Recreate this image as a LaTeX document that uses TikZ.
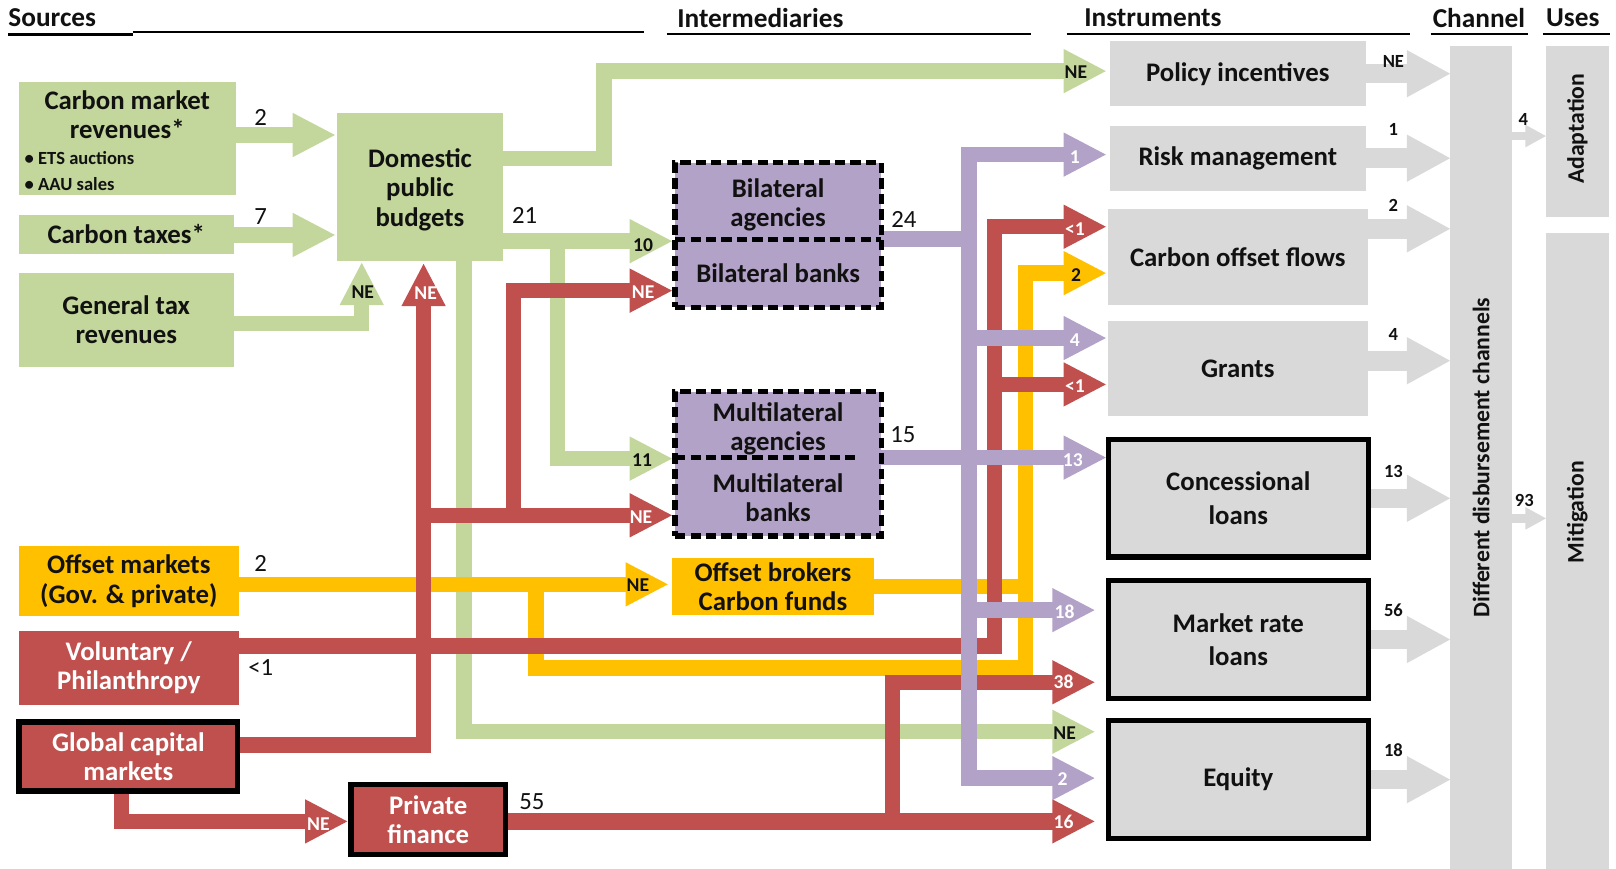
\documentclass[tikz,border=0pt]{standalone}
\usepackage{fontspec}
\setmainfont{Carlito}
\usetikzlibrary{calc}
\definecolor{cgreen}{HTML}{C3D69B}
\definecolor{cred}{HTML}{C0504D}
\definecolor{cpurple}{HTML}{B3A2C7}
\definecolor{cyellow}{HTML}{FFC000}
\definecolor{cgray}{HTML}{D9D9D9}
\definecolor{ctext}{HTML}{111111}
\pgfdeclarelayer{bg}
\pgfsetlayers{bg,main}
\newcommand\tipR[2]{\fill[#1] (#2) -- ++(-41,21.5) -- ++(0,-43) -- cycle;}
\newcommand\tipU[2]{\fill[#1] (#2) -- ++(-21.5,41) -- ++(43,0) -- cycle;}
\newcommand\tipG[2]{\fill[#1] (#2) -- ++(-42,23) -- ++(0,-46) -- cycle;}
\newcommand\tipS[2]{\fill[#1] (#2) -- ++(-20,11) -- ++(0,-22) -- cycle;}
\tikzset{
  box/.style={inner sep=0pt, outer sep=0pt, align=center, font=\fontsize{26}{28.5}\selectfont\bfseries, text=ctext},
  thickbox/.style={box, draw=black, line width=5pt, font=\fontsize{26}{32.5}\selectfont\bfseries},
  dashbox/.style={box, draw=black, line width=5pt, dash pattern=on 10pt off 5pt, fill=cpurple},
  hdr/.style={anchor=west, inner sep=0pt, font=\fontsize{26.5}{28}\selectfont\bfseries, text=ctext},
  num/.style={inner sep=0pt, font=\fontsize{24}{24}\selectfont, text=ctext},
  lbk/.style={inner sep=0pt, font=\fontsize{19}{19}\selectfont\bfseries, text=ctext},
  lwh/.style={lbk, text=white},
  gnum/.style={inner sep=0pt, font=\fontsize{18}{18}\selectfont\bfseries, text=ctext},
  rot/.style={box, rotate=90, font=\fontsize{23}{23}\selectfont\bfseries},
  band/.style={line width=15pt, line cap=butt, line join=miter, shorten >=40pt},
  gflow/.style={band, draw=cgreen},
  yflow/.style={band, draw=cyellow},
  rflow/.style={band, draw=cred},
  pflow/.style={band, draw=cpurple},
  grflow/.style={line width=19pt, line cap=butt, draw=cgray, shorten >=41pt},
  smflow/.style={line width=8pt, line cap=butt, draw=cgray, shorten >=19pt},
}
\begin{document}
\begin{tikzpicture}[x=1pt,y=-1pt]
\useasboundingbox (0,0) rectangle (1568,843);

% ---------- headers
\node[hdr] (hS) at (8,17) {Sources};
\node[hdr] (hI) at (657,17) {Intermediaries};
\node[hdr] (hN) at (1052,17) {Instruments};
\node[hdr] (hC) at (1390,17) {Channel};
\node[hdr] (hU) at (1500,17) {Uses};
\draw[line width=2pt] (8,33.5) -- (129,33.5) (129,31.5) -- (625,31.5);
\draw[line width=2pt] (647,33) -- (1000,33);
\draw[line width=2pt] (1035,33) -- (1368,33);
\draw[line width=2pt] (1388,33) -- (1483,33);
\draw[line width=2pt] (1497,33) -- (1562,33);

% ---------- sources
\node[box, fill=cgreen, minimum width=211pt, minimum height=109pt] (cmr) at (123.5,134.5) {};
\node[box] (cmrT) at (123.5,111) {Carbon market\\revenues*};
\node[box, anchor=west, align=left, font=\fontsize{18}{25}\selectfont\bfseries] (cmrB) at (24,166) {• ETS auctions\\• AAU sales};
\node[box, fill=cgreen, minimum width=209pt, minimum height=37pt] (ct) at (122.5,227.5) {Carbon taxes*};
\node[box, fill=cgreen, minimum width=209pt, minimum height=91pt] (gtr) at (122.5,310.5) {General tax\\revenues};
\node[box, fill=cyellow, minimum width=214pt, minimum height=68pt] (om) at (125,564) {Offset markets\\(Gov. \& private)};
\node[box, fill=cred, text=white, minimum width=214pt, minimum height=72pt] (vp) at (125,648) {Voluntary /\\Philanthropy};
\node[thickbox, fill=cred, text=white, font=\fontsize{26}{28}\selectfont\bfseries, minimum width=212pt, minimum height=67pt] (gcm) at (124.5,734) {Global capital\\markets};
\node[thickbox, fill=cred, text=white, font=\fontsize{26}{28}\selectfont\bfseries, minimum width=150pt, minimum height=68pt] (pf) at (415.5,795.5) {Private\\finance};
\node[box, fill=cgreen, minimum width=161pt, minimum height=143pt] (dpb) at (407.5,181.5) {};
\node[box] (dpbT) at (407.5,184) {Domestic\\public\\budgets};

% ---------- intermediaries
\node[dashbox, minimum width=200pt, minimum height=140pt] (bil) at (755,228) {};
\draw[black, line width=5pt, dash pattern=on 10pt off 5pt] (bil.west |- 0,232) -- (bil.east |- 0,232);
\node[box] (bilA) at (755,199) {Bilateral\\agencies};
\node[box] (bilB) at (755,265) {Bilateral banks};
\node[dashbox, minimum width=200pt, minimum height=140pt] (mul) at (755,450) {};
\draw[black, line width=5pt, dash pattern=on 10pt off 5pt] (mul.west |- 0,444) -- (830,444);
\node[box] (mulA) at (755,416) {Multilateral\\agencies};
\node[box] (mulB) at (755,483) {Multilateral\\banks};
\node[box, fill=cyellow, minimum width=196pt, minimum height=56pt] (ob) at (750,569) {Offset brokers\\Carbon funds};

% ---------- instruments
\node[box, fill=cgray, minimum width=248pt, minimum height=63pt] (pi) at (1201,71.5) {Policy incentives};
\node[box, fill=cgray, minimum width=248pt, minimum height=63pt] (rm) at (1201,153.5) {Risk management};
\node[box, fill=cgray, minimum width=252pt, minimum height=93pt] (cof) at (1201,249.5) {Carbon offset flows};
\node[box, fill=cgray, minimum width=252pt, minimum height=93pt] (gr) at (1201,357.5) {Grants};
\node[thickbox, fill=cgray, minimum width=252pt, minimum height=114pt] (cl) at (1201.5,483.5) {Concessional\\loans};
\node[thickbox, fill=cgray, minimum width=252pt, minimum height=114pt] (mrl) at (1201.5,620.5) {Market rate\\loans};
\node[thickbox, fill=cgray, minimum width=252pt, minimum height=114pt] (eq) at (1201.5,756.5) {Equity};

% ---------- channel and uses
\node[box, fill=cgray, minimum width=60pt, minimum height=798pt] (ch) at (1437,444) {};
\node[rot] (chT) at (1437,444) {Different disbursement channels};
\node[box, fill=cgray, minimum width=61pt, minimum height=166pt] (ad) at (1530.5,128) {};
\node[rot] (adT) at (1530.5,125) {Adaptation};
\node[box, fill=cgray, minimum width=61pt, minimum height=617pt] (mi) at (1530.5,534.5) {};
\node[rot] (miT) at (1530.5,497) {Mitigation};

% ---------- coordinates
\coordinate (tG1) at (325,131);
\coordinate (tG2) at (325,228);
\coordinate (jG3) at (351,314);
\coordinate (tG3) at (351,255);
\coordinate (jG4) at (586,154);
\coordinate (tG4) at (1073,69);
\coordinate (tG5) at (652,234);
\coordinate (jG6) at (541,234);
\coordinate (tG6) at (652,445);
\coordinate (jG7) at (450,710);
\coordinate (tG7) at (1062,710);
\coordinate (tY1) at (648,567);
\coordinate (jY2) at (520,567);
\coordinate (kY2) at (995,648);
\coordinate (tY2) at (1073,265);
\coordinate (jR1) at (411,723);
\coordinate (tR1) at (411,256);
\coordinate (jR2) at (411,500);
\coordinate (tR2) at (652,500);
\coordinate (jR3) at (498,500);
\coordinate (tR3) at (652,282);
\coordinate (jR4) at (965,627);
\coordinate (tR4) at (1073,220);
\coordinate (jR5) at (965,373);
\coordinate (tR5) at (1073,373);
\coordinate (tR6) at (1062,797);
\coordinate (jR7) at (866,797);
\coordinate (tR7) at (1062,662);
\coordinate (jR8) at (118,797);
\coordinate (tR8) at (337,797);
\coordinate (jP) at (940,232);
\coordinate (tP1) at (1073,150);
\coordinate (tP2) at (1073,328);
\coordinate (tP3) at (1073,444);
\coordinate (tP4) at (1062,592);
\coordinate (tP5) at (1062,755);
\coordinate (gt3) at (1407,222);
\coordinate (gt4) at (1407,350);

% ---------- flows (under the boxes)
\begin{pgfonlayer}{bg}
% green
\draw[gflow] (cmr.east |- tG1) -- (tG1); \tipR{cgreen}{tG1}
\draw[gflow] (ct.east |- tG2) -- (tG2); \tipR{cgreen}{tG2}
\draw[gflow] (gtr.east |- jG3) -- (jG3) -- (tG3); \tipU{cgreen}{tG3}
\draw[gflow] (dpb.east |- jG4) -- (jG4) -- (jG4 |- tG4) -- (tG4); \tipR{cgreen}{tG4}
\draw[gflow] (dpb.east |- tG5) -- (tG5); \tipR{cgreen}{tG5}
\draw[gflow] (jG6) -- (jG6 |- tG6) -- (tG6); \tipR{cgreen}{tG6}
\draw[gflow] (dpb.south -| jG7) -- (jG7) -- (tG7); \tipR{cgreen}{tG7}
% yellow
\draw[yflow] (om.east |- tY1) -- (tY1); \tipR{cyellow}{tY1}
\draw[yflow] (jY2) -- (jY2 |- kY2) -- (kY2) -- (kY2 |- tY2) -- (tY2); \tipR{cyellow}{tY2}
\draw[yflow, shorten >=0pt] (ob.east) -- ($(ob.east -| kY2)+(7,0)$);
% red
\draw[rflow] (gcm.east |- jR1) -- (jR1) -- (tR1); \tipU{cred}{tR1}
\draw[rflow] (jR2) -- (tR2); \tipR{cred}{tR2}
\draw[rflow] (jR3) -- (jR3 |- tR3) -- (tR3); \tipR{cred}{tR3}
\draw[rflow] (vp.east |- jR4) -- (jR4) -- (jR4 |- tR4) -- (tR4); \tipR{cred}{tR4}
\draw[rflow] (jR5) -- (tR5); \tipR{cred}{tR5}
\draw[rflow, line width=16pt] (pf.east |- tR6) -- (tR6); \tipR{cred}{tR6}
\draw[rflow] (jR7) -- (jR7 |- tR7) -- (tR7); \tipR{cred}{tR7}
\draw[rflow] (gcm.south -| jR8) -- (jR8) -- (tR8); \tipR{cred}{tR8}
% purple
\draw[pflow] (jP |- tP5) -- (jP |- tP1) -- (tP1); \tipR{cpurple}{tP1}
\draw[pflow] (bil.east |- jP) -- (jP) -- (jP |- tP5) -- (tP5); \tipR{cpurple}{tP5}
\draw[pflow] (jP |- tP2) -- (tP2); \tipR{cpurple}{tP2}
\draw[pflow] (mul.east |- tP3) -- (tP3); \tipR{cpurple}{tP3}
\draw[pflow] (jP |- tP4) -- (tP4); \tipR{cpurple}{tP4}
% gray
\draw[grflow] (pi.east) -- (pi.east -| ch.west); \tipG{cgray}{pi.east -| ch.west}
\draw[grflow] (rm.east) -- (rm.east -| ch.west); \tipG{cgray}{rm.east -| ch.west}
\draw[grflow] (cof.east |- gt3) -- (gt3); \tipG{cgray}{gt3}
\draw[grflow] (gr.east |- gt4) -- (gt4); \tipG{cgray}{gt4}
\draw[grflow] (cl.east) -- (cl.east -| ch.west); \tipG{cgray}{cl.east -| ch.west}
\draw[grflow] (mrl.east) -- (mrl.east -| ch.west); \tipG{cgray}{mrl.east -| ch.west}
\draw[grflow] (eq.east) -- (eq.east -| ch.west); \tipG{cgray}{eq.east -| ch.west}
\draw[smflow] (ch.east |- 0,132) -- (ad.west |- 0,132); \tipS{cgray}{ad.west |- 0,132}
\draw[smflow] (ch.east |- 0,503) -- (mi.west |- 0,503); \tipS{cgray}{mi.west |- 0,503}
\end{pgfonlayer}

% ---------- head labels
\node[lbk] (lG3) at ($(tG3)+(1,28)$) {NE};
\node[lbk] (lG4) at ($(tG4)+(-29,1)$) {NE};
\node[lbk] (lG5) at ($(tG5)+(-28,4)$) {10};
\node[lbk] (lG6) at ($(tG6)+(-29,1)$) {11};
\node[lbk] (lG7) at ($(tG7)+(-29,1)$) {NE};
\node[lbk] (lY1) at ($(tY1)+(-29,1)$) {NE};
\node[lbk] (lY2) at ($(tY2)+(-29,2)$) {2};
\node[lwh] (lR1) at ($(tR1)+(2,28)$) {NE};
\node[lwh] (lR2) at ($(tR2)+(-30,2)$) {NE};
\node[lwh] (lR3) at ($(tR3)+(-28,1)$) {NE};
\node[lwh] (lR4) at ($(tR4)+(-30,2)$) {<1};
\node[lwh] (lR5) at ($(tR5)+(-30,2)$) {<1};
\node[lwh] (lR6) at ($(tR6)+(-30,0)$) {16};
\node[lwh] (lR7) at ($(tR7)+(-30,0)$) {38};
\node[lwh] (lR8) at ($(tR8)+(-28,3)$) {NE};
\node[lwh] (lP1) at ($(tP1)+(-30,2)$) {1};
\node[lwh] (lP2) at ($(tP2)+(-30,2)$) {4};
\node[lwh] (lP3) at ($(tP3)+(-32,2)$) {13};
\node[lwh] (lP4) at ($(tP4)+(-29,2)$) {18};
\node[lwh] (lP5) at ($(tP5)+(-31,1)$) {2};

% ---------- amount labels
\node[num] (n1) at (253,114) {2};
\node[num] (n2) at (253,210) {7};
\node[num] (n3) at (509,209) {21};
\node[num] (n4) at (877,213) {24};
\node[num] (n5) at (876,422) {15};
\node[num] (n6) at (253,547) {2};
\node[num] (n7) at (253,648) {<1};
\node[num] (n8) at (516,778) {55};
\node[gnum] (m1) at (1352,60) {NE};
\node[gnum] (m2) at (1352,126) {1};
\node[gnum] (m3) at (1352,199) {2};
\node[gnum] (m4) at (1352,325) {4};
\node[gnum] (m5) at (1352,457) {13};
\node[gnum] (m6) at (1352,592) {56};
\node[gnum] (m7) at (1352,728) {18};
\node[gnum] (m8) at (1478,116) {4};
\node[gnum] (m9) at (1479,486) {93};
\end{tikzpicture}
\end{document}
